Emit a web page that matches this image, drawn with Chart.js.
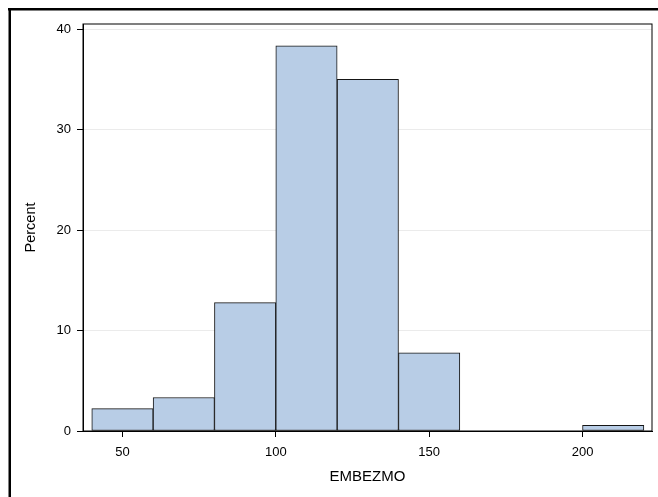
<!DOCTYPE html>
<html>
<head>
<meta charset="utf-8">
<script src="https://cdn.jsdelivr.net/npm/chart.js@4"></script>
<style>
  html, body { margin: 0; padding: 0; background: #fff; }
  canvas { display: block; }
</style>
</head>
<body>
<canvas id="histChart" width="658" height="497"></canvas>
<script>
// bin midpoints (bin width 20) and percent per bin
var binMids = [50, 70, 90, 110, 130, 150, 170, 190, 210];
var percents = [2.22, 3.33, 12.78, 38.33, 35.0, 7.78, 0, 0, 0.56];
var xTicks = [50, 100, 150, 200];
var yTicks = [0, 10, 20, 30, 40];

var barData = binMids.map(function (m, i) {
    return { x: m, y: percents[i] };
});

// outer frame + top/right sides of the plot box
var framePlugin = {
    id: 'frame',
    beforeDraw: function (chart) {
        var c = chart.ctx;
        c.save();
        c.fillStyle = '#fff';
        c.fillRect(0, 0, chart.width, chart.height);
        c.restore();
    },
    afterDraw: function (chart) {
        var c = chart.ctx;
        var a = chart.chartArea;
        c.save();
        c.strokeStyle = '#000';
        c.lineWidth = 1;
        c.strokeRect(a.left, a.top, a.right - a.left, a.bottom - a.top);
        c.fillStyle = '#000';
        c.fillRect(8, 8, 650, 2.5);
        c.fillRect(8.5, 8, 2.5, 489);
        c.restore();
    }
};

var ctx = document.getElementById('histChart').getContext('2d');
var histChart = new Chart(ctx, {
    type: 'bar',
    data: {
        datasets: [{
            label: 'Percent',
            data: barData,
            backgroundColor: '#b8cde6',
            borderColor: '#151515',
            borderWidth: 1,
            borderSkipped: false,
            barPercentage: 1,
            categoryPercentage: 1
        }]
    },
    options: {
        responsive: false,
        animation: false,
        devicePixelRatio: 1,
        layout: { padding: { top: 24, right: 6, left: 0, bottom: 0 } },
        plugins: {
            legend: { display: false },
            tooltip: { enabled: false }
        },
        scales: {
            x: {
                type: 'linear',
                offset: false,
                min: 37.14,
                max: 222.65,
                afterBuildTicks: function (scale) {
                    scale.ticks = xTicks.map(function (v) { return { value: v }; });
                },
                afterFit: function (scale) { scale.height = 66; },
                grid: {
                    offset: false,
                    drawOnChartArea: false,
                    drawTicks: true,
                    tickLength: 6,
                    tickColor: '#000'
                },
                border: { color: '#000', width: 1 },
                ticks: {
                    color: '#000',
                    padding: 8,
                    maxRotation: 0,
                    font: { family: 'Liberation Sans', size: 13 }
                },
                title: {
                    display: true,
                    text: 'EMBEZMO',
                    color: '#000',
                    padding: { top: 0, bottom: 11 },
                    font: { family: 'Liberation Sans', size: 15 }
                }
            },
            y: {
                min: 0,
                max: 40.5,
                afterBuildTicks: function (scale) {
                    scale.ticks = yTicks.map(function (v) { return { value: v }; });
                },
                afterFit: function (scale) { scale.width = 83; },
                grid: {
                    color: '#ebebeb',
                    drawTicks: true,
                    tickLength: 6,
                    tickColor: '#000'
                },
                border: { color: '#000', width: 1 },
                ticks: {
                    color: '#000',
                    padding: 6,
                    font: { family: 'Liberation Sans', size: 13 }
                },
                title: {
                    display: true,
                    text: 'Percent',
                    color: '#000',
                    padding: { top: 22, bottom: 0 },
                    font: { family: 'Liberation Sans', size: 14.5 }
                }
            }
        }
    },
    plugins: [framePlugin]
});
</script>
</body>
</html>
